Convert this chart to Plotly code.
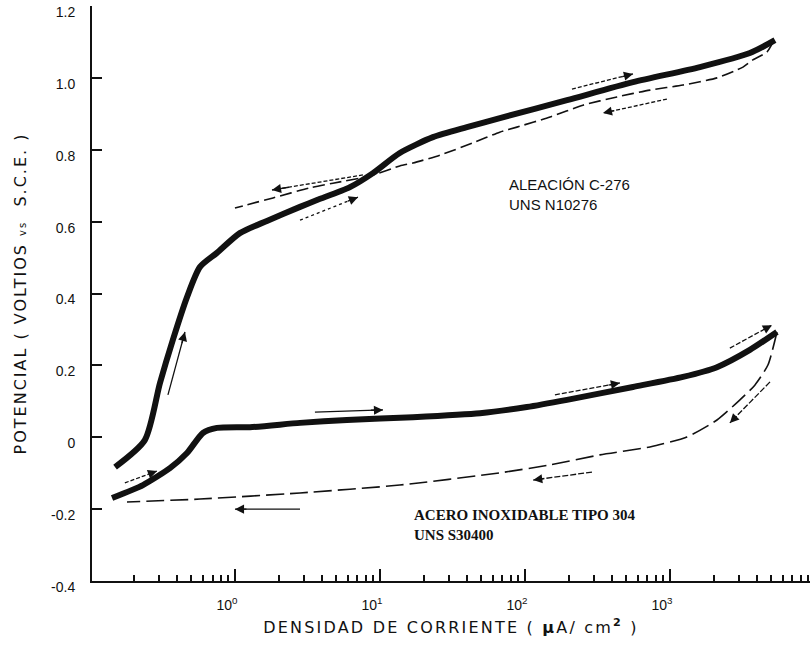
import numpy as np
import plotly.graph_objects as go

# ---------------- data ----------------
# Alloy C-276, forward scan (thick curve)
c276_x = [0.149, 0.239, 0.304, 0.373, 0.467, 0.574, 0.751, 1.08, 1.66, 2.81, 3.68,
          6.21, 8.95, 13.7, 23.2, 39.8, 67.2, 195, 556, 1610, 3560, 5300]
c276_y = [-0.083, -0.008, 0.151, 0.271, 0.390, 0.474, 0.513, 0.568, 0.602, 0.641, 0.660,
          0.696, 0.735, 0.791, 0.835, 0.863, 0.888, 0.938, 0.988, 1.030, 1.069, 1.105]
# Alloy C-276, reverse scan (dashed)
c276_rev_x = [5150, 4670, 3730, 3190, 2110, 1230, 728, 431, 251, 149, 88, 67, 43.8,
              25.9, 16.9, 13.7, 8.53, 4.74, 3.29, 1.83, 1.0]
c276_rev_y = [1.100, 1.072, 1.050, 1.030, 1.000, 0.980, 0.966, 0.947, 0.924, 0.891, 0.863,
              0.849, 0.819, 0.785, 0.763, 0.755, 0.727, 0.707, 0.694, 0.666, 0.638]

# Stainless steel 304, forward scan (thick curve)
ss304_x = [0.142, 0.232, 0.356, 0.467, 0.601, 0.751, 1.27, 2.81, 5.92, 16.9, 49, 103,
           195, 556, 1230, 2110, 3560, 5470]
ss304_y = [-0.169, -0.133, -0.086, -0.044, 0.012, 0.026, 0.028, 0.040, 0.048, 0.056, 0.067,
           0.084, 0.104, 0.140, 0.168, 0.195, 0.243, 0.293]
# Stainless steel 304, reverse scan (dashed)
ss304_rev_x = [5470, 4740, 3850, 3040, 2110, 1310, 728, 329, 149, 67, 13.7, 2.81, 0.574, 0.180]
ss304_rev_y = [0.293, 0.201, 0.145, 0.104, 0.048, 0.001, -0.027, -0.049, -0.077, -0.099,
               -0.133, -0.155, -0.172, -0.180]

# Scan-direction arrows: (tail x, tail y, head x, head y, dash)
arrows = [
    (0.345, 0.118, 0.452, 0.293, "solid"),
    (2.81, 0.604, 7.05, 0.668, "dot"),
    (7.63, 0.730, 1.80, 0.688, "4px,2px"),
    (211, 0.969, 556, 1.011, "4px,2px"),
    (953, 0.941, 345, 0.902, "4px,2px"),
    (0.174, -0.127, 0.290, -0.094, "4px,2px"),
    (3.56, 0.070, 10.5, 0.076, "solid"),
    (161, 0.118, 452, 0.151, "5px,2px"),
    (2590, 0.248, 5050, 0.312, "5px,2px"),
    (4900, 0.154, 2590, 0.040, "6px,2px"),
    (290, -0.097, 114, -0.119, "6px,2px"),
    (2.81, -0.200, 1.0, -0.200, "solid"),
]

y_ticks = [-0.4, -0.2, 0, 0.2, 0.4, 0.6, 0.8, 1.0, 1.2]
y_ticktext = ["-0.4", "-0.2", "0", "0.2", "0.4", "0.6", "0.8", "1.0", "1.2"]
x_ticks = [1, 10, 100, 1000]
x_ticktext = ["10<sup>0</sup>", "10<sup>1</sup>", "10<sup>2</sup>", "10<sup>3</sup>"]
x_minor = [m * 10.0 ** k for k in range(-1, 4) for m in range(2, 10)]

INK = "#111111"

fig = go.Figure()

fig.add_trace(go.Scatter(x=c276_x, y=c276_y, mode="lines",
                         line=dict(color=INK, width=6, shape="spline", smoothing=0.7),
                         showlegend=False, hoverinfo="skip"))
fig.add_trace(go.Scatter(x=c276_rev_x, y=c276_rev_y, mode="lines",
                         line=dict(color=INK, width=1.6, dash="12px,5px", shape="spline", smoothing=0.6),
                         showlegend=False, hoverinfo="skip"))
fig.add_trace(go.Scatter(x=ss304_x, y=ss304_y, mode="lines",
                         line=dict(color=INK, width=6, shape="spline", smoothing=0.6),
                         showlegend=False, hoverinfo="skip"))
fig.add_trace(go.Scatter(x=ss304_rev_x, y=ss304_rev_y, mode="lines",
                         line=dict(color=INK, width=1.6, dash="18px,6px", shape="spline", smoothing=0.6),
                         showlegend=False, hoverinfo="skip"))

for tx, ty, hx, hy, dash in arrows:
    fig.add_trace(go.Scatter(x=[tx, hx], y=[ty, hy], mode="lines",
                             line=dict(color=INK, width=1.3, dash=dash),
                             showlegend=False, hoverinfo="skip"))
    lt, lh = np.log10(tx), np.log10(hx)
    fig.add_annotation(x=lh, y=hy, xref="x", yref="y",
                       ax=lh - 0.2 * (lh - lt), ay=hy - 0.2 * (hy - ty),
                       axref="x", ayref="y", text="", showarrow=True,
                       arrowhead=2, arrowsize=1.3, arrowwidth=1.4, arrowcolor=INK)

fig.add_annotation(x=1.876, y=0.732, xref="x", yref="y", xanchor="left", yanchor="top",
                   text="ALEACIÓN C-276<br>UNS N10276", showarrow=False, align="left",
                   font=dict(family="Liberation Sans", size=15, color=INK))
fig.add_annotation(x=1.221, y=-0.189, xref="x", yref="y", xanchor="left", yanchor="top",
                   text="<b>ACERO INOXIDABLE TIPO 304<br>UNS S30400</b>", showarrow=False,
                   align="left", font=dict(family="Liberation Serif", size=15, color=INK))

fig.update_layout(
    width=810, height=651,
    margin=dict(l=92, r=0, t=6, b=70),
    paper_bgcolor="white", plot_bgcolor="white",
    xaxis=dict(
        type="log", range=[-0.986, 3.966], automargin=False,
        showline=True, linecolor=INK, linewidth=2, mirror=False,
        showgrid=False, zeroline=False,
        tickmode="array", tickvals=x_ticks, ticktext=x_ticktext,
        ticks="inside", ticklen=12, tickwidth=1.5, tickcolor=INK,
        ticklabelshift=-8, ticklabelstandoff=10, ticklabeloverflow="allow",
        tickfont=dict(family="Liberation Sans", size=14, color=INK),
        minor=dict(tickvals=x_minor, ticks="inside", ticklen=6, tickwidth=1.5,
                   tickcolor=INK, showgrid=False),
        title=dict(text="<span style='letter-spacing:2.2px'>DENSIDAD DE CORRIENTE ( <b>µ</b>A/ cm<sup><b>2</b></sup> )</span>",
                   font=dict(family="DejaVu Sans", size=16, color=INK), standoff=10),
    ),
    yaxis=dict(
        range=[-0.4, 1.2], automargin=False,
        showline=True, linecolor=INK, linewidth=2, mirror=False,
        showgrid=False, zeroline=False,
        tickmode="array", tickvals=y_ticks, ticktext=y_ticktext,
        ticks="inside", ticklen=10, tickwidth=1.5, tickcolor=INK,
        ticklabelshift=6, ticklabelstandoff=12, ticklabeloverflow="allow",
        tickfont=dict(family="Liberation Sans", size=14, color=INK),
        title=dict(text="<span style='letter-spacing:2.0px'>POTENCIAL ( VOLTIOS <span style='font-size:10px'>vs</span>  S.C.E. )</span>",
                   font=dict(family="DejaVu Sans", size=16, color=INK), standoff=20),
    ),
)

fig.write_html("out.html", config={"displayModeBar": False},
               post_script="document.body.style.margin='0px';")
